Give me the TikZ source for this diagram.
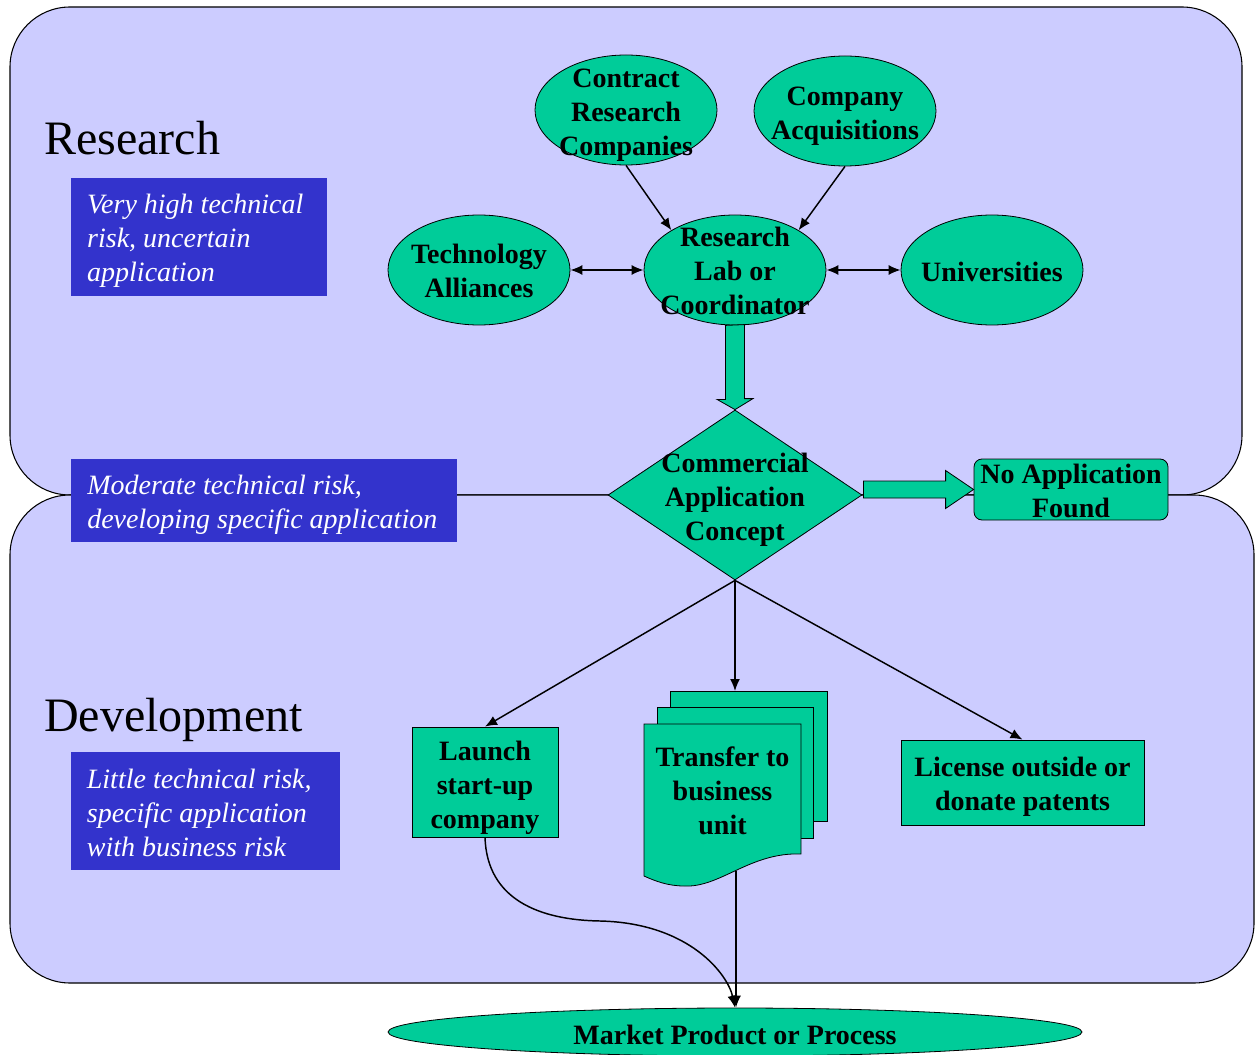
\documentclass[tikz,border=0pt]{standalone}
\usepackage{fontspec}
\setmainfont{Liberation Serif}
\usetikzlibrary{shapes.geometric,arrows.meta,calc}
\definecolor{panelblue}{HTML}{CCCCFF}
\definecolor{nodegreen}{HTML}{00CC99}
\definecolor{boxblue}{HTML}{3333CC}
\newcommand\nodefnt{\fontsize{21pt}{25.5pt}\selectfont\bfseries}
\newcommand\boxfnt{\fontsize{21pt}{25.5pt}\selectfont\itshape}
\newcommand\titlefnt{\fontsize{36pt}{40pt}\selectfont}
\begin{document}
\begin{tikzpicture}[x=0.75pt,y=-0.75pt,
  panel/.style={draw=black,line width=0.8pt,fill=panelblue,rounded corners=45pt},
  greenell/.style={ellipse,draw=black,line width=0.6pt,fill=nodegreen,minimum width=136.5pt,minimum height=82.5pt,inner sep=0pt},
  greenbox/.style={rectangle,draw=black,line width=0.6pt,fill=nodegreen,inner sep=0pt},
  pagebox/.style={rectangle,draw=black,line width=0.6pt,fill=nodegreen,inner sep=0pt,anchor=north west},
  bluebox/.style={rectangle,fill=boxblue,inner sep=0pt,anchor=north west},
  bluetext/.style={text=white,font=\boxfnt,align=left},
  titletext/.style={anchor=base west,inner sep=0pt,font=\titlefnt},
  intext/.style={font=\nodefnt,align=center},
  conn/.style={line width=1.1pt,-{Latex[length=9pt,width=7.5pt]}},
  dconn/.style={line width=1.1pt,{Latex[length=9pt,width=7.5pt]}-{Latex[length=9pt,width=7.5pt]}},
  blockarrow/.style={draw=black,line width=0.6pt,fill=nodegreen,line join=miter}]
\useasboundingbox (0,0) rectangle (1256,1055);

% panels
\draw[panel] (10,7) rectangle (1242,495);
\draw[panel] (10,495) rectangle (1254,983);

% titles
\node[titletext] (restitle) at (44,155) {Research};
\node[titletext] (devtitle) at (44,731) {Development};

% blue notes
\node[bluebox,minimum width=192pt,minimum height=88.5pt,
  label={[bluetext,yshift=-3pt,xshift=-3pt]center:{Very high technical\\risk, uncertain\\application}}] (note1) at (71,178) {};
\node[bluebox,minimum width=289.5pt,minimum height=62.25pt,
  label={[bluetext,yshift=-3pt,xshift=-1.5pt]center:{Moderate technical risk,\\developing specific application}}] (note2) at (71,459) {};
\node[bluebox,minimum width=201.75pt,minimum height=88.5pt,
  label={[bluetext,yshift=-1.5pt,xshift=-4.9pt]center:{Little technical risk,\\specific application\\with business risk}}] (note3) at (71,752) {};

% ellipses
\node[greenell,label={[intext,yshift=-4pt]center:{Contract\\Research\\Companies}}] (crc) at (626,110) {};
\node[greenell,label={[intext,yshift=-3.75pt]center:{Company\\Acquisitions}}] (acq) at (845,111) {};
\node[greenell,label={[intext,yshift=-1pt]center:{Technology\\Alliances}}] (tech) at (479,270) {};
\node[greenell,label={[intext,yshift=-0.75pt]center:{Research\\Lab or\\Coordinator}}] (lab) at (735,270) {};
\node[greenell,label={[intext,yshift=-1.5pt]center:{Universities}}] (uni) at (992,270) {};

% diamond
\node[diamond,draw=black,line width=0.6pt,fill=nodegreen,minimum width=190.5pt,minimum height=127.5pt,inner sep=0pt,
  label={[intext,yshift=-3.75pt]center:{Commercial\\Application\\Concept}}] (diam) at (735,495) {};

% no application
\node[greenbox,rounded corners=6pt,minimum width=145.5pt,minimum height=45.75pt,
  label={[intext,yshift=-0.75pt]center:{No Application\\Found}}] (noapp) at (1071,489.5) {};

% outcome boxes
\node[greenbox,minimum width=109.5pt,minimum height=82.5pt,
  label={[intext,yshift=-4pt]center:{Launch\\start-up\\company}}] (launch) at (485,782) {};
\node[greenbox,minimum width=182.25pt,minimum height=63.75pt,
  label={[intext,yshift=-3.4pt]center:{License outside or\\donate patents}}] (license) at (1022.5,782.5) {};

% multi-document
\node[pagebox,minimum width=117.75pt,minimum height=97.5pt] (pageback) at (670,691) {};
\node[pagebox,minimum width=117pt,minimum height=98.25pt] (pagemid) at (657,707) {};
\draw[draw=black,line width=0.6pt,fill=nodegreen] (644,724) -- (801,724) -- (801,854)
  .. controls (750,852) and (720,888) .. (684,886)
  .. controls (668,886) and (655,881) .. (644,876) -- cycle;
\node[intext] (transfer) at (722.5,791) {Transfer to\\business\\unit};
\coordinate (frontbot) at (736,871);

% market
\node[greenell,minimum width=520.5pt,minimum height=36pt,
  label={[intext,yshift=-2.25pt]center:{Market Product or Process}}] (market) at (735,1032) {};

% connectors
\draw[conn] (crc.south) -- (lab.148);
\draw[conn] (acq.south) -- (lab.32);
\draw[dconn] (tech.east) -- (lab.west);
\draw[dconn] (lab.east) -- (uni.west);

\draw[blockarrow] (lab.south) ++(-9.5,0) -- ++(0,74) -- ++(-8.5,0) -- (diam.north)
  -- ++(18,-11) -- ++(-8.5,0) -- ++(0,-74) -- cycle;
\draw[blockarrow] (noapp.west) -- ++(-28,-19) -- ++(0,10.5) -- ($(diam.east)+(1,-14)$)
  -- ++(0,17) -- ($(noapp.west)+(-28,8.5)$) -- ++(0,10.5) -- cycle;

\draw[conn] (diam.south) -- (launch.north);
\draw[conn] (diam.south) -- (diam.south |- pageback.north);
\draw[conn] (diam.south) -- (license.north);

\draw[conn] (frontbot) -- (frontbot |- market.north);
\draw[conn] (launch.south) .. controls (487,900) and (540,920) .. (600,921)
  .. controls (690,923) and (728,975) .. (market.north);
\end{tikzpicture}
\end{document}
